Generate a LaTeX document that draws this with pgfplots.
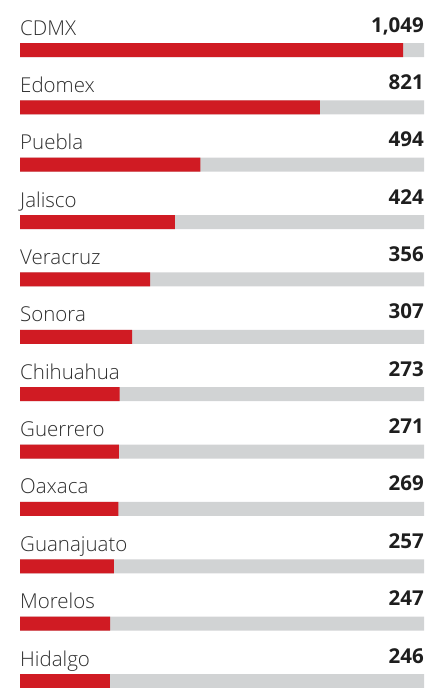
\documentclass[border=0pt]{standalone}
\usepackage{fontspec}
\setmainfont{Open Sans Light}[BoldFont={Open Sans Bold}]
\usepackage{pgfplots}
\pgfplotsset{compat=1.18}
\definecolor{barred}{RGB}{208,27,35}
\definecolor{bargrey}{RGB}{209,211,212}
\definecolor{labeltext}{RGB}{45,45,45}
\definecolor{valtext}{RGB}{30,30,30}

\begin{document}
\begin{tikzpicture}
\path[use as bounding box] (0,0) rectangle (446bp,688bp);
\begin{axis}[
    at={(20bp,0)}, anchor=south west,
    scale only axis, width=404bp, height=688bp,
    xmin=0, xmax=1106,
    ymin=-0.872, ymax=11.122, y dir=reverse,
    hide axis, clip=false,
    bar width=14bp, bar shift=0pt,
]
% grey background bars
\addplot[xbar, fill=bargrey, draw=none] coordinates {
    (1106,0) (1106,1) (1106,2) (1106,3) (1106,4) (1106,5)
    (1106,6) (1106,7) (1106,8) (1106,9) (1106,10) (1106,11)
};
% values
\addplot[xbar, fill=barred, draw=none] coordinates {
    (1049,0) (821,1) (494,2) (424,3) (356,4) (307,5)
    (273,6) (271,7) (269,8) (257,9) (247,10) (246,11)
};
% state names
\addplot[only marks, mark=none, nodes near coords, point meta=explicit symbolic,
    nodes near coords style={anchor=base west, inner sep=0pt, yshift=15bp,
        text=labeltext, font=\fontsize{20.5bp}{24bp}\selectfont}] coordinates {
    (0,0) [CDMX] (0,1) [Edomex] (0,2) [Puebla] (0,3) [Jalisco]
    (0,4) [Veracruz] (0,5) [Sonora] (0,6) [Chihuahua] (0,7) [Guerrero]
    (0,8) [Oaxaca] (0,9) [Guanajuato] (0,10) [Morelos] (0,11) [Hidalgo]
};
% value labels
\addplot[only marks, mark=none, nodes near coords, point meta=explicit symbolic,
    nodes near coords style={anchor=base east, inner sep=0pt, yshift=18bp,
        text=valtext, font=\fontsize{20.5bp}{24bp}\selectfont\bfseries}] coordinates {
    (1106,0) [1{,}049] (1106,1) [821] (1106,2) [494] (1106,3) [424]
    (1106,4) [356] (1106,5) [307] (1106,6) [273] (1106,7) [271]
    (1106,8) [269] (1106,9) [257] (1106,10) [247] (1106,11) [246]
};
\end{axis}
\end{tikzpicture}
\end{document}
